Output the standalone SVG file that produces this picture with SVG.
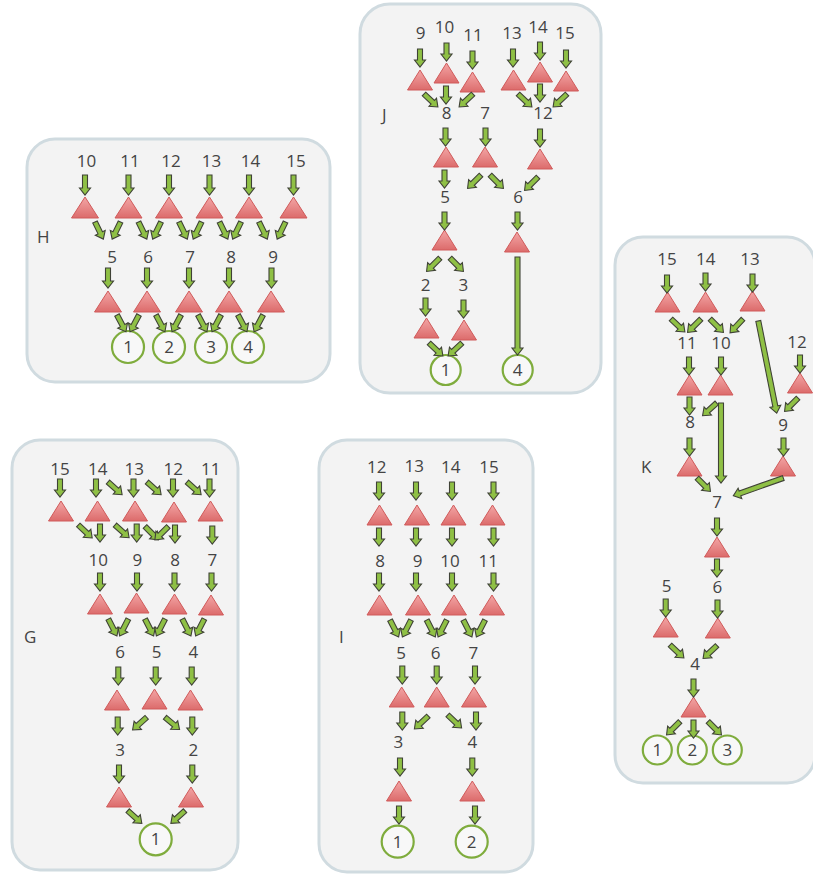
<svg xmlns="http://www.w3.org/2000/svg" xmlns:xlink="http://www.w3.org/1999/xlink" width="813" height="876" viewBox="0 0 813 876">
<style>
.bg{fill:#ffffff}
.panel{fill:#f3f3f3;stroke:#d0dbe0;stroke-width:3}
.lt{font-family:"Open Sans","DejaVu Sans",sans-serif;font-size:17px;fill:#444444}
.n{font-family:"Open Sans","DejaVu Sans",sans-serif;font-size:17px;fill:#444444;text-anchor:middle}
.tri{fill:url(#tg);stroke:#d05a5a;stroke-width:1}
.cir{fill:#f8f8f8;stroke:#7fac3d;stroke-width:2.2}
.ar{fill:#8fc045;stroke:#3f4236;stroke-width:1.1;stroke-linejoin:miter}
</style>
<defs>
<linearGradient id="tg" x1="0" y1="0" x2="0" y2="1">
<stop offset="0" stop-color="#f3a6a6"/>
<stop offset="1" stop-color="#dc6b6b"/>
</linearGradient>
<path id="t" d="M0,-20L12.5,0H-12.5Z"/>
<path id="tH" d="M0,-21L13.5,0H-13.5Z"/>
<path id="v" d="M-2.5,0V11H-5.5L0,18L5.5,11H2.5V0Z"/>
<path id="vH" d="M-2.5,0V13H-5.5L0,20L5.5,13H2.5V0Z"/>
<path id="a" d="M0,-2.5H12V-5.5L19,0L12,5.5V2.5H0Z"/>
</defs>
<rect class="bg" x="0" y="0" width="813" height="876"/>

<!-- Panel H -->
<g id="panel-H">
<rect class="panel" x="27" y="139" width="303" height="243" rx="28"/>
<text class="lt" x="37" y="243">H</text>
<g id="H-10"><text class="n" x="86.5" y="167">10</text><use href="#tH" class="tri" x="85" y="218"/></g>
<g id="H-11"><text class="n" x="130" y="167">11</text><use href="#tH" class="tri" x="128.5" y="218"/></g>
<g id="H-12"><text class="n" x="171" y="167">12</text><use href="#tH" class="tri" x="169" y="218"/></g>
<g id="H-13"><text class="n" x="211.5" y="167">13</text><use href="#tH" class="tri" x="209.5" y="218"/></g>
<g id="H-14"><text class="n" x="250.5" y="167">14</text><use href="#tH" class="tri" x="249" y="218"/></g>
<g id="H-15"><text class="n" x="296" y="167">15</text><use href="#tH" class="tri" x="293.5" y="218"/></g>
<g id="H-5"><text class="n" x="112" y="263">5</text><use href="#tH" class="tri" x="108" y="312"/></g>
<g id="H-6"><text class="n" x="148" y="263">6</text><use href="#tH" class="tri" x="147" y="312"/></g>
<g id="H-7"><text class="n" x="190" y="263">7</text><use href="#tH" class="tri" x="189" y="312"/></g>
<g id="H-8"><text class="n" x="231" y="263">8</text><use href="#tH" class="tri" x="229" y="312"/></g>
<g id="H-9"><text class="n" x="273" y="263">9</text><use href="#tH" class="tri" x="271" y="312"/></g>
<g id="H-c1"><circle class="cir" cx="128" cy="347" r="16"/><text class="n" x="128" y="353">1</text></g>
<g id="H-c2"><circle class="cir" cx="169" cy="347" r="16"/><text class="n" x="169" y="353">2</text></g>
<g id="H-c3"><circle class="cir" cx="211" cy="347" r="16"/><text class="n" x="211" y="353">3</text></g>
<g id="H-c4"><circle class="cir" cx="248" cy="347" r="16"/><text class="n" x="248" y="353">4</text></g>
</g>

<!-- Panel J -->
<g id="panel-J">
<rect class="panel" x="360" y="4" width="241" height="389" rx="30"/>
<text class="lt" x="382" y="121">J</text>
<g id="J-9"><text class="n" x="420.5" y="39">9</text><use href="#t" class="tri" x="420" y="90"/></g>
<g id="J-10"><text class="n" x="444.5" y="33">10</text><use href="#t" class="tri" x="446.5" y="83"/></g>
<g id="J-11"><text class="n" x="473" y="41">11</text><use href="#t" class="tri" x="472.5" y="92"/></g>
<g id="J-13"><text class="n" x="512" y="39">13</text><use href="#t" class="tri" x="513.5" y="90"/></g>
<g id="J-14"><text class="n" x="538" y="33">14</text><use href="#t" class="tri" x="540" y="82"/></g>
<g id="J-15"><text class="n" x="565" y="39">15</text><use href="#t" class="tri" x="566" y="91"/></g>
<g id="J-8"><text class="n" x="446.5" y="119">8</text><use href="#t" class="tri" x="446" y="167"/></g>
<g id="J-7"><text class="n" x="485" y="119">7</text><use href="#t" class="tri" x="485" y="167"/></g>
<g id="J-12"><text class="n" x="543" y="119">12</text><use href="#t" class="tri" x="540" y="169"/></g>
<g id="J-5"><text class="n" x="445" y="203">5</text><use href="#t" class="tri" x="444.5" y="250"/></g>
<g id="J-6"><text class="n" x="518" y="203">6</text><use href="#t" class="tri" x="517" y="252"/></g>
<g id="J-2"><text class="n" x="425.7" y="291">2</text><use href="#t" class="tri" x="426.5" y="338"/></g>
<g id="J-3"><text class="n" x="463.3" y="291">3</text><use href="#t" class="tri" x="464" y="340"/></g>
<g id="J-c1"><circle class="cir" cx="445.7" cy="370" r="15"/><text class="n" x="445.7" y="376">1</text></g>
<g id="J-c4"><circle class="cir" cx="517.7" cy="370" r="15"/><text class="n" x="517.7" y="376">4</text></g>
</g>

<!-- Panel K -->
<g id="panel-K">
<rect class="panel" x="615" y="237" width="200" height="546" rx="28"/>
<text class="lt" x="641" y="473">K</text>
<g id="K-15"><text class="n" x="667" y="265">15</text><use href="#t" class="tri" x="667.5" y="312"/></g>
<g id="K-14"><text class="n" x="705.7" y="265">14</text><use href="#t" class="tri" x="705.5" y="312"/></g>
<g id="K-13"><text class="n" x="750" y="265">13</text><use href="#t" class="tri" x="752.5" y="311"/></g>
<g id="K-11"><text class="n" x="687" y="349">11</text><use href="#t" class="tri" x="689.5" y="395"/></g>
<g id="K-10"><text class="n" x="721" y="349">10</text><use href="#t" class="tri" x="720.5" y="395"/></g>
<g id="K-12"><text class="n" x="797" y="348">12</text><use href="#t" class="tri" x="800" y="393"/></g>
<g id="K-8"><text class="n" x="690" y="428">8</text><use href="#t" class="tri" x="689.5" y="476"/></g>
<g id="K-9"><text class="n" x="783" y="431">9</text><use href="#t" class="tri" x="783" y="476"/></g>
<g id="K-7"><text class="n" x="717" y="508">7</text><use href="#t" class="tri" x="717" y="557"/></g>
<g id="K-5"><text class="n" x="666.7" y="592">5</text><use href="#t" class="tri" x="665.7" y="637"/></g>
<g id="K-6"><text class="n" x="717.3" y="593">6</text><use href="#t" class="tri" x="717.8" y="638"/></g>
<g id="K-4"><text class="n" x="695" y="670">4</text><use href="#t" class="tri" x="693.5" y="717"/></g>
<g id="K-c1"><circle class="cir" cx="657.3" cy="750" r="14.5"/><text class="n" x="657.3" y="756">1</text></g>
<g id="K-c2"><circle class="cir" cx="692.3" cy="750" r="14.5"/><text class="n" x="692.3" y="756">2</text></g>
<g id="K-c3"><circle class="cir" cx="727.3" cy="750" r="14.5"/><text class="n" x="727.3" y="756">3</text></g>
</g>

<!-- Panel G -->
<g id="panel-G">
<rect class="panel" x="12" y="440" width="226" height="430" rx="28"/>
<text class="lt" x="24" y="643">G</text>
<g id="G-15"><text class="n" x="60" y="475">15</text><use href="#t" class="tri" x="61" y="521"/></g>
<g id="G-14"><text class="n" x="97.7" y="475">14</text><use href="#t" class="tri" x="97.5" y="521"/></g>
<g id="G-13"><text class="n" x="134.3" y="475">13</text><use href="#t" class="tri" x="135" y="521"/></g>
<g id="G-12"><text class="n" x="173.3" y="475">12</text><use href="#t" class="tri" x="174" y="522"/></g>
<g id="G-11"><text class="n" x="210.7" y="475">11</text><use href="#t" class="tri" x="210.5" y="521"/></g>
<g id="G-10"><text class="n" x="98.3" y="566">10</text><use href="#t" class="tri" x="100" y="614"/></g>
<g id="G-9"><text class="n" x="137.3" y="566">9</text><use href="#t" class="tri" x="136.5" y="613"/></g>
<g id="G-8"><text class="n" x="175" y="566">8</text><use href="#t" class="tri" x="174.5" y="614"/></g>
<g id="G-7"><text class="n" x="212.3" y="566">7</text><use href="#t" class="tri" x="211" y="615"/></g>
<g id="G-6"><text class="n" x="120" y="658">6</text><use href="#t" class="tri" x="117" y="710"/></g>
<g id="G-5"><text class="n" x="156.7" y="658">5</text><use href="#t" class="tri" x="154.5" y="709"/></g>
<g id="G-4"><text class="n" x="193.3" y="658">4</text><use href="#t" class="tri" x="190.5" y="710"/></g>
<g id="G-3"><text class="n" x="120" y="756">3</text><use href="#t" class="tri" x="119" y="807"/></g>
<g id="G-2"><text class="n" x="193.3" y="756">2</text><use href="#t" class="tri" x="191" y="807"/></g>
<g id="G-c1"><circle class="cir" cx="155.7" cy="839.3" r="16"/><text class="n" x="155.7" y="845.3">1</text></g>
</g>

<!-- Panel I -->
<g id="panel-I">
<rect class="panel" x="319" y="440" width="214" height="432" rx="28"/>
<text class="lt" x="339" y="643">I</text>
<g id="I-12"><text class="n" x="376.7" y="473">12</text><use href="#t" class="tri" x="379.5" y="525"/></g>
<g id="I-13"><text class="n" x="414.3" y="472">13</text><use href="#t" class="tri" x="417" y="525"/></g>
<g id="I-14"><text class="n" x="450.7" y="473">14</text><use href="#t" class="tri" x="453.5" y="525"/></g>
<g id="I-15"><text class="n" x="489" y="473">15</text><use href="#t" class="tri" x="492.5" y="525"/></g>
<g id="I-8"><text class="n" x="380" y="567">8</text><use href="#t" class="tri" x="379.5" y="615"/></g>
<g id="I-9"><text class="n" x="417.7" y="567">9</text><use href="#t" class="tri" x="418" y="615"/></g>
<g id="I-10"><text class="n" x="450" y="567">10</text><use href="#t" class="tri" x="454" y="615"/></g>
<g id="I-11"><text class="n" x="488.3" y="567">11</text><use href="#t" class="tri" x="492" y="615"/></g>
<g id="I-5"><text class="n" x="401" y="659">5</text><use href="#t" class="tri" x="401.7" y="707"/></g>
<g id="I-6"><text class="n" x="435.7" y="659">6</text><use href="#t" class="tri" x="436.7" y="707"/></g>
<g id="I-7"><text class="n" x="473.3" y="659">7</text><use href="#t" class="tri" x="474" y="707"/></g>
<g id="I-3"><text class="n" x="398.3" y="748">3</text><use href="#t" class="tri" x="399" y="801"/></g>
<g id="I-4"><text class="n" x="472.3" y="748">4</text><use href="#t" class="tri" x="472.3" y="801"/></g>
<g id="I-c1"><circle class="cir" cx="397.7" cy="841.7" r="16"/><text class="n" x="397.7" y="847.7">1</text></g>
<g id="I-c2"><circle class="cir" cx="471.7" cy="841.7" r="16"/><text class="n" x="471.7" y="847.7">2</text></g>
</g>

<!-- Connectors -->
<g id="connectors" class="ar">
<g id="conn-H">
<use href="#vH" x="85" y="175"/><use href="#vH" x="128.5" y="175"/><use href="#vH" x="169" y="175"/><use href="#vH" x="209.5" y="175"/><use href="#vH" x="249" y="175"/><use href="#vH" x="293.5" y="175"/>
<use href="#a" transform="translate(95,222) rotate(64)"/>
<use href="#a" transform="translate(138.5,222) rotate(64)"/>
<use href="#a" transform="translate(179,222) rotate(64)"/>
<use href="#a" transform="translate(219.5,222) rotate(64)"/>
<use href="#a" transform="translate(259,222) rotate(64)"/>
<use href="#a" transform="translate(120.5,222) rotate(116)"/>
<use href="#a" transform="translate(161,222) rotate(116)"/>
<use href="#a" transform="translate(201.5,222) rotate(116)"/>
<use href="#a" transform="translate(241,222) rotate(116)"/>
<use href="#a" transform="translate(285.5,222) rotate(116)"/>
<use href="#vH" x="108" y="268"/><use href="#vH" x="147" y="268"/><use href="#vH" x="189" y="268"/><use href="#vH" x="229" y="268"/><use href="#vH" x="271.5" y="268"/>
<use href="#a" transform="translate(117,315) rotate(62)"/>
<use href="#a" transform="translate(156,315) rotate(62)"/>
<use href="#a" transform="translate(198,315) rotate(62)"/>
<use href="#a" transform="translate(238,315) rotate(62)"/>
<use href="#a" transform="translate(139,315) rotate(118)"/>
<use href="#a" transform="translate(181,315) rotate(118)"/>
<use href="#a" transform="translate(221,315) rotate(118)"/>
<use href="#a" transform="translate(263,315) rotate(118)"/>
</g>
<g id="conn-J">
<use href="#v" x="420" y="49"/><use href="#v" x="446.5" y="43"/><use href="#v" x="472.5" y="51"/><use href="#v" x="513" y="49"/><use href="#v" x="540" y="42"/><use href="#v" x="566" y="50"/>
<use href="#a" transform="translate(424,94) rotate(43)"/>
<use href="#v" x="446" y="86"/>
<use href="#a" transform="translate(473,94) rotate(137)"/>
<use href="#a" transform="translate(518,94) rotate(43)"/>
<use href="#v" x="540" y="84"/>
<use href="#a" transform="translate(567,94) rotate(137)"/>
<use href="#v" x="445.5" y="128"/><use href="#v" x="485.5" y="128"/><use href="#v" x="540" y="129"/>
<use href="#v" x="444.5" y="170"/>
<use href="#a" transform="translate(481,175) rotate(135)"/>
<use href="#a" transform="translate(490,175) rotate(45)"/>
<use href="#a" transform="translate(538,177) rotate(135)"/>
<use href="#v" x="444.5" y="212"/><use href="#v" x="517.5" y="212"/>
<use href="#a" transform="translate(440,258) rotate(135)"/>
<use href="#a" transform="translate(450,258) rotate(45)"/>
<use href="#v" x="425.5" y="298"/><use href="#v" x="463.5" y="300"/>
<use href="#a" transform="translate(429,343) rotate(43)"/>
<use href="#a" transform="translate(462,343) rotate(137)"/>
<path d="M515,257V348H512L517.5,355L523,348H520V257Z"/>
</g>
<g id="conn-K">
<use href="#v" x="667" y="275"/><use href="#v" x="705.5" y="273"/><use href="#v" x="752.5" y="274"/>
<use href="#a" transform="translate(671,319) rotate(43)"/>
<use href="#a" transform="translate(701,319) rotate(135)"/>
<use href="#a" transform="translate(710,319) rotate(45)"/>
<use href="#a" transform="translate(743,319) rotate(133)"/>
<path d="M0,-2.5H87V-5.5L94,0L87,5.5V2.5H0Z" transform="translate(758.3,321) rotate(78.7)"/>
<use href="#v" x="800" y="355"/>
<use href="#a" transform="translate(798,398) rotate(135)"/>
<use href="#v" x="689" y="357"/><use href="#v" x="721" y="357"/>
<use href="#v" x="689.5" y="397"/>
<use href="#a" transform="translate(716.7,403) rotate(138)"/>
<path d="M718.5,403V476H715.5L721,483L726.5,476H723.5V403Z"/>
<use href="#v" x="689.5" y="438"/>
<use href="#a" transform="translate(697,478) rotate(45)"/>
<use href="#v" x="783.5" y="438"/>
<path d="M0,-2.5H46V-5.5L53,0L46,5.5V2.5H0Z" transform="translate(783.3,478) rotate(160.5)"/>
<use href="#v" x="717" y="518"/>
<use href="#v" x="717" y="559"/>
<use href="#v" x="665.7" y="599"/><use href="#v" x="717.5" y="600"/>
<use href="#a" transform="translate(670,645) rotate(43)"/>
<use href="#a" transform="translate(717,645.5) rotate(137)"/>
<use href="#v" x="693.5" y="679"/>
<use href="#a" transform="translate(680,721.5) rotate(135)"/>
<use href="#v" x="693.5" y="720"/>
<use href="#a" transform="translate(708,721.5) rotate(45)"/>
</g>
<g id="conn-G">
<use href="#v" x="60" y="479"/><use href="#v" x="96" y="479"/><use href="#v" x="133.5" y="479"/><use href="#v" x="173" y="479"/><use href="#v" x="209.5" y="479"/>
<use href="#a" transform="translate(108,482) rotate(42)"/>
<use href="#a" transform="translate(147,482) rotate(42)"/>
<use href="#a" transform="translate(187,482) rotate(42)"/>
<use href="#a" transform="translate(78.3,525) rotate(43)"/>
<use href="#v" x="100" y="524"/>
<use href="#a" transform="translate(115,525) rotate(42)"/>
<use href="#v" x="136.7" y="524"/>
<use href="#a" transform="translate(145,526.5) rotate(45)"/>
<use href="#a" transform="translate(168.3,526.5) rotate(135)"/>
<use href="#v" x="175" y="525"/>
<use href="#v" x="212.3" y="526"/>
<use href="#v" x="100" y="573"/><use href="#v" x="137" y="573"/><use href="#v" x="174.5" y="573"/><use href="#v" x="211.5" y="573"/>
<use href="#a" transform="translate(108.3,619) rotate(63)"/>
<use href="#a" transform="translate(128.3,619) rotate(117)"/>
<use href="#a" transform="translate(145,619) rotate(63)"/>
<use href="#a" transform="translate(165,619) rotate(117)"/>
<use href="#a" transform="translate(182.3,619) rotate(63)"/>
<use href="#a" transform="translate(204.3,619) rotate(117)"/>
<use href="#v" x="118.3" y="667"/><use href="#v" x="155.7" y="667"/><use href="#v" x="191.7" y="667"/>
<use href="#v" x="117.7" y="717"/>
<use href="#a" transform="translate(146.7,717.3) rotate(138)"/>
<use href="#a" transform="translate(165,717.3) rotate(40)"/>
<use href="#v" x="192.3" y="717"/>
<use href="#v" x="119" y="765"/><use href="#v" x="192.3" y="765"/>
<use href="#a" transform="translate(127.7,810.7) rotate(42)"/>
<use href="#a" transform="translate(185,810.7) rotate(138)"/>
</g>
<g id="conn-I">
<use href="#v" x="379" y="482"/><use href="#v" x="416" y="482"/><use href="#v" x="452" y="482"/><use href="#v" x="493.5" y="482"/>
<use href="#v" x="379" y="528"/><use href="#v" x="416" y="528"/><use href="#v" x="452" y="528"/><use href="#v" x="493.5" y="528"/>
<use href="#v" x="379" y="573"/><use href="#v" x="416" y="573"/><use href="#v" x="452" y="573"/><use href="#v" x="493.5" y="573"/>
<use href="#a" transform="translate(390,620) rotate(63)"/>
<use href="#a" transform="translate(411,620) rotate(117)"/>
<use href="#a" transform="translate(426.7,620) rotate(63)"/>
<use href="#a" transform="translate(446.7,620) rotate(117)"/>
<use href="#a" transform="translate(463.3,620) rotate(63)"/>
<use href="#a" transform="translate(485,620) rotate(117)"/>
<use href="#v" x="402.3" y="666"/><use href="#v" x="436.7" y="666"/><use href="#v" x="475" y="666"/>
<use href="#v" x="402.3" y="712"/>
<use href="#a" transform="translate(428.3,716) rotate(137)"/>
<use href="#a" transform="translate(447.7,715) rotate(43)"/>
<use href="#v" x="476" y="712"/>
<use href="#v" x="400" y="758"/><use href="#v" x="472.3" y="758"/>
<use href="#v" x="399" y="806"/><use href="#v" x="475" y="806"/>
</g>
</g>
</svg>
